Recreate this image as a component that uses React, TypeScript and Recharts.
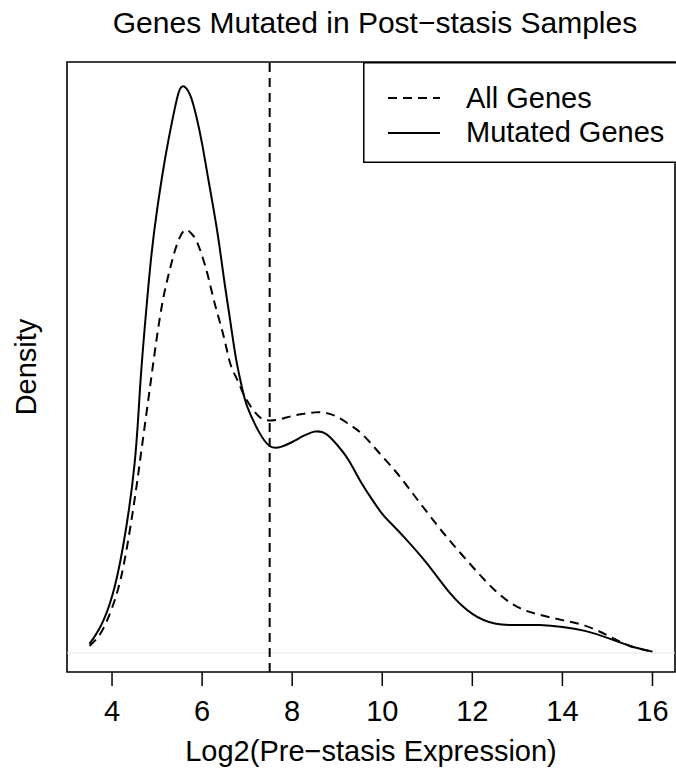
import React from "react";
import { Legend, Line, LineChart, ReferenceArea, ReferenceLine, XAxis, YAxis, Label } from "recharts";

// density estimates (arbitrary density units)
const expression = [
  3.5, 3.75, 4, 4.25, 4.5, 4.625, 4.75, 4.875, 5, 5.125, 5.25, 5.375, 5.5, 5.625, 5.75, 5.875, 6,
  6.125, 6.25, 6.375, 6.5, 6.625, 6.75, 6.875, 7, 7.25, 7.5, 7.75, 8, 8.25, 8.5, 8.75, 9, 9.25, 9.5,
  9.75, 10, 10.25, 10.5, 11, 11.5, 12, 12.5, 13, 13.5, 14, 14.5, 15, 15.5, 16,
];
const allGenes = [
  0.0037, 0.0106, 0.0239, 0.0456, 0.0811, 0.1025, 0.1245, 0.1465, 0.168, 0.1865, 0.2, 0.2115,
  0.22, 0.2242, 0.2226, 0.2184, 0.2104, 0.2003, 0.188, 0.177, 0.1657, 0.1534, 0.1463, 0.1396,
  0.1336, 0.1256, 0.1232, 0.124, 0.1256, 0.1267, 0.1275, 0.1272, 0.1251, 0.1214, 0.1171, 0.111,
  0.1042, 0.0975, 0.0901, 0.0744, 0.0595, 0.0458, 0.0332, 0.0244, 0.0202, 0.0174, 0.0145, 0.0093,
  0.0037, 0.0007,
];
const mutatedGenes = [
  0.0048, 0.0143, 0.0299, 0.0572, 0.1002, 0.1415, 0.1791, 0.211, 0.2348, 0.2545, 0.2715, 0.2865,
  0.2984, 0.2998, 0.2947, 0.284, 0.2698, 0.2528, 0.2359, 0.2173, 0.1958, 0.176, 0.1564, 0.1418,
  0.1307, 0.1177, 0.1097, 0.1092, 0.1118, 0.115, 0.1173, 0.1161, 0.1102, 0.1023, 0.0917, 0.0822,
  0.0737, 0.0673, 0.061, 0.0472, 0.0318, 0.0207, 0.0156, 0.0148, 0.0148, 0.0138, 0.0117, 0.008,
  0.0037, 0.0007,
];
const xTicks = [4, 6, 8, 10, 12, 14, 16];
const cutoff = 7.5;

const FONT = "'Liberation Sans', Arial, sans-serif";
const X_DOMAIN = [3, 16.5];
const Y_DOMAIN = [-0.0101, 0.3132];

const data = expression.map((x, i) => ({ x, all: allGenes[i], mutated: mutatedGenes[i] }));

const LegendBox = () => (
  <svg width={330} height={101} style={{ display: "block", fontFamily: FONT }}>
    <rect x={0.75} y={0.75} width={340} height={99.5} fill="#fff" stroke="#000" strokeWidth={1.5} />
    <line x1={25} x2={77} y1={36} y2={36} stroke="#000" strokeWidth={2} strokeDasharray="9 6" />
    <line x1={25} x2={77} y1={71} y2={71} stroke="#000" strokeWidth={2} />
    <text x={103} y={46} fontSize={29} fill="#000">All Genes</text>
    <text x={103} y={80} fontSize={29} fill="#000">Mutated Genes</text>
  </svg>
);

const App: React.FC = () => {
  return (
    <div style={{ position: "fixed", left: 0, top: 0, width: 676, height: 775, overflow: "hidden", background: "#fff" }}>
      <LineChart width={676} height={775} data={data} margin={{ top: 62, right: 1, bottom: 0, left: 0 }}>
        <text x={375} y={33} textAnchor="middle" fontSize={30} fontFamily={FONT} fill="#000">
          Genes Mutated in Post−stasis Samples
        </text>
        <XAxis
          dataKey="x"
          type="number"
          domain={X_DOMAIN}
          ticks={xTicks}
          allowDataOverflow
          height={103}
          axisLine={false}
          tickLine={{ stroke: "#000", strokeWidth: 1.5 }}
          tickSize={14}
          tickMargin={14}
          tick={{ fontSize: 29, fill: "#000", fontFamily: FONT }}
        >
          <Label
            value="Log2(Pre−stasis Expression)"
            position="insideBottom"
            offset={14}
            style={{ fontSize: 29, fill: "#000", fontFamily: FONT }}
          />
        </XAxis>
        <YAxis
          type="number"
          domain={Y_DOMAIN}
          allowDataOverflow
          width={67}
          tick={false}
          axisLine={false}
          tickLine={false}
        >
          <Label
            content={() => (
              <text
                x={36}
                y={367}
                transform="rotate(-90, 36, 367)"
                textAnchor="middle"
                fontSize={29}
                fontFamily={FONT}
                fill="#000"
              >
                Density
              </text>
            )}
          />
        </YAxis>
        <ReferenceLine y={0} stroke="#e4e4e4" strokeWidth={1} />
        <ReferenceLine x={cutoff} stroke="#000" strokeWidth={2} strokeDasharray="9 6" />
        <Line
          dataKey="all"
          type="natural"
          stroke="#000"
          strokeWidth={2}
          strokeDasharray="9 6"
          dot={false}
          isAnimationActive={false}
        />
        <Line
          dataKey="mutated"
          type="natural"
          stroke="#000"
          strokeWidth={2}
          dot={false}
          isAnimationActive={false}
        />
        <ReferenceArea
          x1={X_DOMAIN[0]}
          x2={X_DOMAIN[1]}
          y1={Y_DOMAIN[0]}
          y2={Y_DOMAIN[1]}
          fill="none"
          stroke="#000"
          strokeWidth={1.6}
        />
        <Legend
          layout="vertical"
          align="center"
          verticalAlign="middle"
          wrapperStyle={{ position: "absolute", left: 363, top: 62, width: 330, height: 101 }}
          content={() => <LegendBox />}
        />
      </LineChart>
    </div>
  );
};

export default App;
